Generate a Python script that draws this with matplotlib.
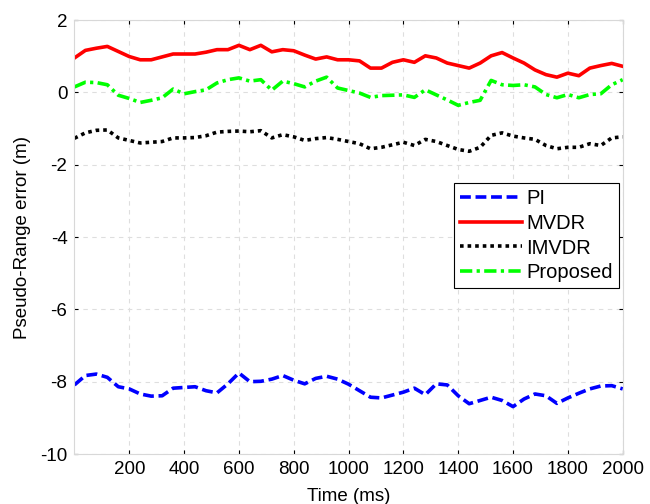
import numpy as np
import matplotlib.pyplot as plt

plt.rcParams['font.family'] = ['Liberation Sans', 'DejaVu Sans']
plt.rcParams['axes.unicode_minus'] = False

# time axis, one sample every 40 ms
time_ms = np.arange(0, 2001, 40)

pi_err = [-8.09, -7.83, -7.79, -7.88, -8.14, -8.20, -8.34, -8.40, -8.39, -8.18,
          -8.16, -8.14, -8.25, -8.31, -8.06, -7.76, -8.00, -7.99, -7.93, -7.83,
          -7.96, -8.06, -7.91, -7.85, -7.93, -8.07, -8.25, -8.43, -8.45, -8.37,
          -8.29, -8.18, -8.36, -8.06, -8.09, -8.39, -8.61, -8.52, -8.43, -8.52,
          -8.69, -8.48, -8.34, -8.39, -8.60, -8.45, -8.32, -8.20, -8.12, -8.11,
          -8.20]
mvdr_err = [0.95, 1.16, 1.22, 1.27, 1.13, 0.99, 0.90, 0.90, 0.98, 1.06,
            1.06, 1.06, 1.11, 1.18, 1.18, 1.30, 1.18, 1.30, 1.12, 1.18,
            1.15, 1.03, 0.92, 0.98, 0.90, 0.90, 0.87, 0.67, 0.67, 0.83,
            0.90, 0.83, 1.01, 0.95, 0.81, 0.74, 0.67, 0.81, 1.01, 1.10,
            0.95, 0.81, 0.62, 0.49, 0.42, 0.53, 0.46, 0.67, 0.74, 0.80,
            0.72]
imvdr_err = [-1.27, -1.12, -1.05, -1.04, -1.26, -1.33, -1.40, -1.38, -1.36, -1.26,
             -1.26, -1.25, -1.20, -1.10, -1.08, -1.07, -1.09, -1.06, -1.26, -1.17,
             -1.23, -1.33, -1.28, -1.25, -1.30, -1.36, -1.42, -1.56, -1.52, -1.45,
             -1.38, -1.47, -1.30, -1.36, -1.47, -1.58, -1.63, -1.52, -1.19, -1.12,
             -1.21, -1.26, -1.30, -1.47, -1.56, -1.52, -1.52, -1.42, -1.47, -1.26,
             -1.23]
proposed_err = [0.15, 0.28, 0.27, 0.21, -0.08, -0.17, -0.28, -0.22, -0.15, 0.09,
                -0.04, 0.02, 0.07, 0.26, 0.35, 0.40, 0.31, 0.35, 0.06, 0.31,
                0.24, 0.15, 0.31, 0.42, 0.12, 0.05, -0.02, -0.14, -0.09, -0.08,
                -0.07, -0.14, 0.07, -0.07, -0.21, -0.36, -0.28, -0.22, 0.33, 0.21,
                0.19, 0.21, 0.15, -0.06, -0.15, -0.06, -0.15, -0.06, -0.04, 0.21,
                0.35]

fig = plt.figure(figsize=(6.5, 5.04), dpi=100)
ax = fig.add_axes([0.1145, 0.0992, 0.8435, 0.8611])

lw = 2.6
ax.plot(time_ms, pi_err, color='#0000ff', lw=lw, dashes=(3, 1.3), label='PI')
ax.plot(time_ms, mvdr_err, color='#ff0000', lw=lw, label='MVDR')
ax.plot(time_ms, imvdr_err, color='black', lw=lw, dashes=(1, 1.1), label='IMVDR')
ax.plot(time_ms, proposed_err, color='#00ff00', lw=lw,
        dashes=(3.4, 1.2, 0.9, 1.2), label='Proposed')

ax.set_xlim(0, 2000)
ax.set_ylim(-10, 2)
ax.set_xticks(np.arange(200, 2001, 200))
ax.set_yticks(np.arange(-10, 3, 2))

ax.grid(True, color='#dedede', linestyle=(0, (4, 4)), linewidth=0.8)
for s in ax.spines.values():
    s.set_color('#d8d8d8')
    s.set_linewidth(0.8)
ax.tick_params(direction='in', length=3, width=0.8, color='black',
               top=True, right=True, labelsize=13.5, pad=5)

ax.set_xlabel('Time (ms)', fontsize=13.5, labelpad=7)
ax.set_ylabel('Pseudo-Range error (m)', fontsize=13.5, labelpad=7)

leg = ax.legend(loc='upper right', bbox_to_anchor=(0.993, 0.624), fontsize=14.5,
                handlelength=3.1, handletextpad=0.2, labelspacing=0.28,
                borderpad=0.3, borderaxespad=0, fancybox=False, framealpha=1)
leg.get_frame().set_edgecolor('black')
leg.get_frame().set_linewidth(0.8)

fig.savefig('out.png', dpi=100)
